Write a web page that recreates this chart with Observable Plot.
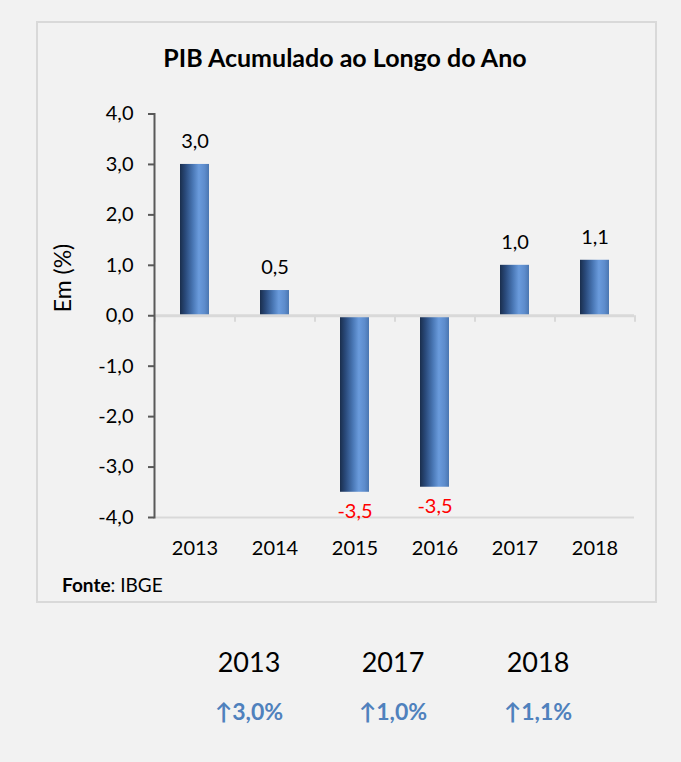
<!DOCTYPE html>
<html><head><meta charset="utf-8">
<script src="https://cdn.jsdelivr.net/npm/d3@7"></script>
<script src="https://cdn.jsdelivr.net/npm/@observablehq/plot@0.6"></script>
<style>
body{margin:0;background:#f2f2f2;font-family:Lato,"Open Sans",sans-serif;color:#000;}
#page{position:relative;width:681px;height:762px;overflow:hidden;}
#panel{position:absolute;left:36px;top:21px;width:617px;height:578px;border:2px solid #d9d9d9;box-sizing:content-box;}
#chart{position:absolute;left:0;top:0;}
#title{position:absolute;left:0;width:690px;top:45px;text-align:center;font-weight:bold;font-size:25px;line-height:25px;}
#ylabel{position:absolute;left:2px;top:265px;width:120px;text-align:center;font-size:23px;line-height:26px;transform:rotate(-90deg);}
#fonte{position:absolute;left:62px;top:575px;font-size:19px;line-height:19px;}
.hy{position:absolute;width:120px;text-align:center;font-size:27px;line-height:27px;top:648px;}
.hv{position:absolute;width:120px;text-align:center;font-size:23px;line-height:23px;top:700px;font-weight:bold;color:#4f81bd;}
</style>
</head><body>
<div id="page">
<div id="panel"></div>
<div id="chart"></div>
<div id="title"></div>
<div id="ylabel"></div>
<div id="fonte"></div>
<div id="bottom"></div>
</div>
<script>
const title = "PIB Acumulado ao Longo do Ano";
const yLabel = "Em (%)";
const years = ["2013","2014","2015","2016","2017","2018"];
const values = [3.0, 0.5, -3.5, -3.4, 1.0, 1.1];
const valueLabels = ["3,0","0,5","-3,5","-3,5","1,0","1,1"];
const yTicks = [-4,-3,-2,-1,0,1,2,3,4];
const highlightYears = ["2013","2017","2018"];
const highlightLabels = ["↑3,0%","↑1,0%","↑1,1%"];
const highlightCenters = [249, 393, 538];

const data = years.map((year, i) => ({year, value: values[i], label: valueLabels[i]}));

const defs = () => {
  const d = d3.create("svg:defs");
  const g = d.append("linearGradient").attr("id","cyl").attr("x1",0).attr("x2",1).attr("y1",0).attr("y2",0);
  [[0,"#1a2e4d"],[0.2,"#2b4c7e"],[0.45,"#4a78b6"],[0.65,"#6a9bdc"],[0.85,"#5d8ccc"],[1,"#4a76b0"]]
    .forEach(([o,c]) => g.append("stop").attr("offset", o).attr("stop-color", c));
  return d.node();
};

const fmt = d => d.toFixed(1).replace(".", ",");

const chart = Plot.plot({
  width: 681, height: 600,
  marginLeft: 154, marginRight: 47, marginTop: 113.5, marginBottom: 83,
  style: {background: "transparent", fontFamily: "Lato, 'Open Sans', sans-serif", fontSize: "20px", color: "#000", overflow: "visible"},
  x: {domain: years, paddingInner: 0.64, paddingOuter: 0.32, axis: null},
  y: {domain: [-4, 4], axis: null},
  marks: [
    defs,
    Plot.ruleY([-4], {stroke: "#d9d9d9", strokeWidth: 2}),
    Plot.barY(data, {x: "year", y: "value", fill: "url(#cyl)"}),
    Plot.ruleY([0], {stroke: "#d9d9d9", strokeWidth: 3}),
    Plot.ruleX(years, {x: d => d, y1: 0, y2: -0.13, dx: -40, stroke: "#d9d9d9", strokeWidth: 2}),
    Plot.ruleX(years.slice(-1), {x: d => d, y1: 0, y2: -0.13, dx: 40, stroke: "#d9d9d9", strokeWidth: 2}),
    Plot.axisY({ticks: yTicks, tickFormat: fmt, tickSize: 6, tickPadding: 15, stroke: "#595959", strokeWidth: 2, fill: "#000", fontSize: 20, label: null}),
    Plot.frame({anchor: "left", stroke: "#595959", strokeWidth: 2}),
    Plot.axisX({tickSize: 0, tickPadding: 23, label: null, fontSize: 20, fill: "#000"}),
    Plot.text(data.filter(d => d.value > 0), {x: "year", y: "value", text: "label", dy: -23, fill: "#000", fontSize: 20}),
    Plot.text(data.filter(d => d.value < 0), {x: "year", y: "value", text: "label", dy: 19, fill: "#ff0000", fontSize: 20})
  ]
});
document.getElementById("chart").appendChild(chart);
document.getElementById("title").textContent = title;
document.getElementById("ylabel").textContent = yLabel;
document.getElementById("fonte").innerHTML = "<b>Fonte</b>: IBGE";
const bottom = document.getElementById("bottom");
highlightYears.forEach((y, i) => {
  const a = document.createElement("div");
  a.className = "hy"; a.style.left = (highlightCenters[i] - 60) + "px"; a.textContent = y;
  const b = document.createElement("div");
  b.className = "hv"; b.style.left = (highlightCenters[i] - 60) + "px"; b.textContent = highlightLabels[i];
  bottom.appendChild(a); bottom.appendChild(b);
});
</script>
</body></html>
